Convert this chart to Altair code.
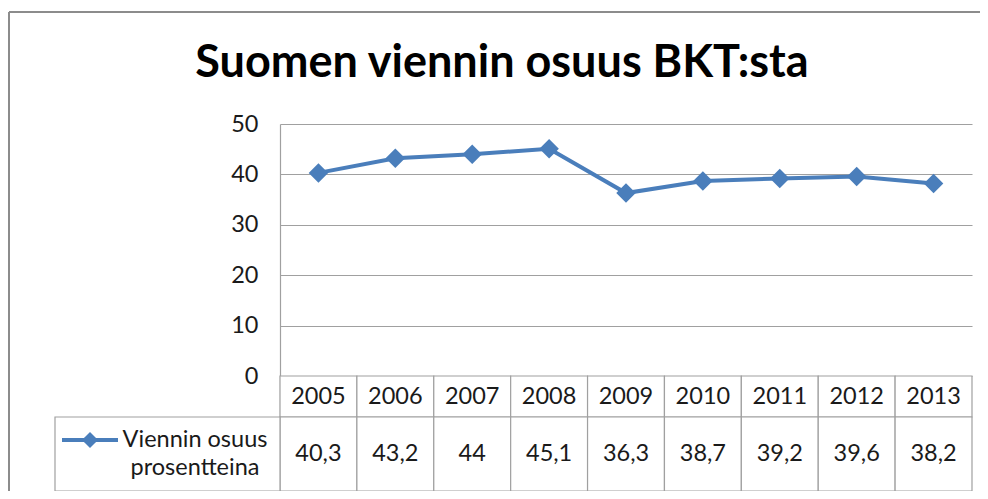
import altair as alt
import pandas as pd

# ---- data ----
years = ["2005", "2006", "2007", "2008", "2009", "2010", "2011", "2012", "2013"]
values = [40.3, 43.2, 44, 45.1, 36.3, 38.7, 39.2, 39.6, 38.2]
y_ticks = [0, 10, 20, 30, 40, 50]
title_text = "Suomen viennin osuus BKT:sta"
series_name = ["Viennin osuus", "prosentteina"]

df = pd.DataFrame({"year": years, "value": values})

# ---- layout constants ----
BLUE = "#4a7ebb"
GRID = "#a0a0a0"
TXT = "#1a1a1a"
FONT = "Lato"
FS = 23.5
PLOT_W = 692
PX_PER_UNIT = 252 / 50.0          # 50 units over 252 px
HEADER_PX = 41
ROW_PX = 74
TOTAL_H = 252 + HEADER_PX + ROW_PX
Y_MIN = 50 - TOTAL_H / PX_PER_UNIT
HEAD_BOTTOM = -HEADER_PX / PX_PER_UNIT
ROW_BOTTOM = Y_MIN
HEAD_MID = HEAD_BOTTOM / 2
ROW_MID = (HEAD_BOTTOM + ROW_BOTTOM) / 2

xscale = alt.Scale(type="band", domain=years, paddingInner=0, paddingOuter=0)
yscale = alt.Scale(domain=[Y_MIN, 50], nice=False, zero=False)

X = alt.X("year:O", scale=xscale, axis=None)
Y_axis = alt.Axis(values=y_ticks, grid=True, gridColor=GRID, gridWidth=1.2,
                  domainColor=GRID, domainWidth=1.2, ticks=False, labelPadding=22,
                  labelFont=FONT, labelFontSize=FS, labelColor=TXT, title=None)

base = alt.Chart(df)

line = base.mark_line(color=BLUE, strokeWidth=4).encode(
    x=X, y=alt.Y("value:Q", scale=yscale, axis=Y_axis))
pts = base.mark_point(shape="diamond", filled=True, size=380, color=BLUE, opacity=1).encode(
    x=X, y=alt.Y("value:Q", scale=yscale))

head_rect = base.mark_rect(fill="white", stroke=GRID, strokeWidth=1.2).encode(
    x=X, y=alt.datum(0, scale=yscale), y2=alt.datum(HEAD_BOTTOM))
row_rect = base.mark_rect(fill="white", stroke=GRID, strokeWidth=1.2).encode(
    x=X, y=alt.datum(HEAD_BOTTOM, scale=yscale), y2=alt.datum(ROW_BOTTOM))

one = base.transform_filter("datum.year == '2005'")
legend_rect = one.mark_rect(fill="white", stroke=GRID, strokeWidth=1.2).encode(
    x=alt.value(-225), x2=alt.value(0),
    y=alt.datum(HEAD_BOTTOM, scale=yscale), y2=alt.datum(ROW_BOTTOM))

head_text = base.mark_text(font=FONT, fontSize=FS, color=TXT, baseline="middle").encode(
    x=X, y=alt.datum(HEAD_MID, scale=yscale), text="year:N")
row_text = base.transform_calculate(
    label="replace(toString(datum.value), '.', ',')").mark_text(
    font=FONT, fontSize=FS, color=TXT, baseline="middle").encode(
    x=X, y=alt.datum(ROW_MID, scale=yscale), text="label:N")

legend_text1 = one.mark_text(font=FONT, fontSize=FS, color=TXT, baseline="middle",
                             align="center", dy=-14).encode(
    x=alt.value(-85), y=alt.datum(ROW_MID, scale=yscale), text=alt.value(series_name[0]))
legend_text2 = one.mark_text(font=FONT, fontSize=FS, color=TXT, baseline="middle",
                             align="center", dy=14).encode(
    x=alt.value(-85), y=alt.datum(ROW_MID, scale=yscale), text=alt.value(series_name[1]))
legend_line = one.mark_rule(color=BLUE, strokeWidth=4).encode(
    x=alt.value(-218), x2=alt.value(-162), y=alt.value(316))
legend_pt = one.mark_point(shape="diamond", filled=True, size=260, color=BLUE, opacity=1).encode(
    x=alt.value(-190), y=alt.value(316))

title = one.mark_text(font=FONT, fontSize=45, fontWeight="bold", color="#000",
                      align="center", baseline="alphabetic").encode(
    x=alt.value(222), y=alt.value(-47), text=alt.value(title_text))

border_top = one.mark_rule(color="#8c8c8c", strokeWidth=2).encode(
    x=alt.value(-271), x2=alt.value(700), y=alt.value(-112))
border_left = one.mark_rule(color="#8c8c8c", strokeWidth=2).encode(
    x=alt.value(-271), y=alt.value(-112), y2=alt.value(TOTAL_H))

chart = alt.layer(
    head_rect, row_rect, legend_rect, line, pts, head_text, row_text,
    legend_text1, legend_text2, legend_line, legend_pt, title, border_top, border_left
).properties(
    width=PLOT_W, height=TOTAL_H,
    autosize=alt.AutoSizeParams(type="none"),
    padding={"left": 272, "top": 116, "right": 8, "bottom": 0},
).configure_view(stroke=None)

chart.save("out.html", embed_options={"renderer": "svg", "actions": False})
